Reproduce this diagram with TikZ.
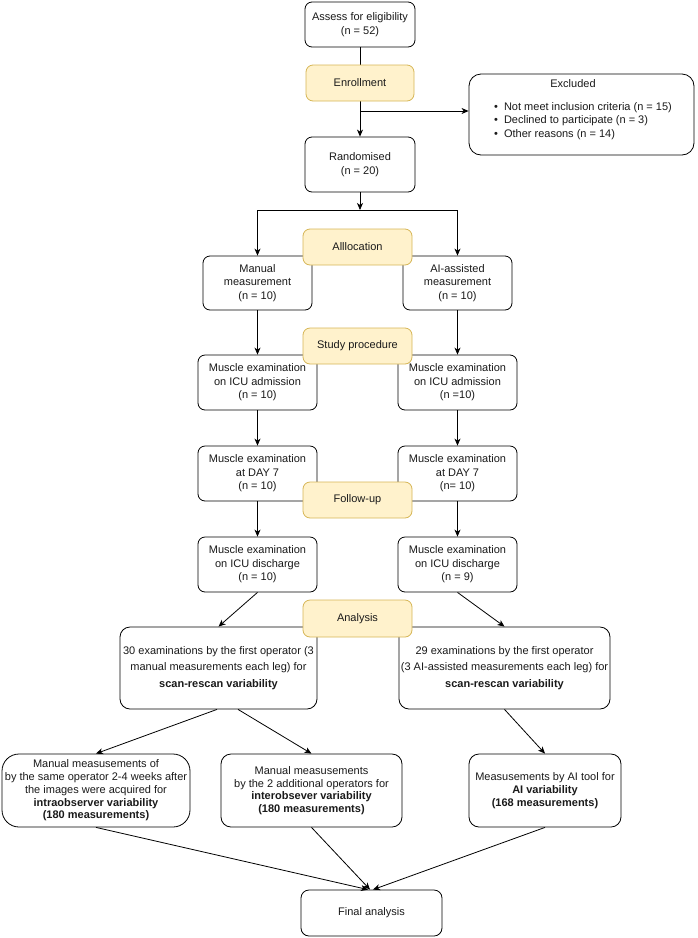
\documentclass[tikz,border=0pt]{standalone}
\usepackage{fontspec}
\setmainfont{Liberation Sans}
\usetikzlibrary{arrows.meta}
\definecolor{yfill}{HTML}{FFF2CC}
\definecolor{yline}{HTML}{D6B656}
\definecolor{txtc}{HTML}{1A1A1A}
\begin{document}
\begin{tikzpicture}[x=1pt,y=-1pt,
  box/.style={draw=black, line width=0.8pt, rounded corners=7pt, fill=white,
    align=center, inner sep=0pt, text=txtc, font=\fontsize{11}{13.5}\selectfont},
  wbox/.style={box, font=\fontsize{11}{16.5}\selectfont},
  lbox/.style={box, font=\fontsize{11}{12.7}\selectfont},
  ybox/.style={box, fill=yfill, draw=yline},
  txt/.style={inner sep=0pt, text=txtc, font=\fontsize{11}{13.2}\selectfont},
  arr/.style={-{Stealth[length=7pt,width=6pt,inset=2pt]}, line width=0.8pt},
  ln/.style={line width=0.8pt},
]
\useasboundingbox (0,0) rectangle (698,938);

% white boxes
\node[box, minimum width=110, minimum height=45] (assess) at (360,24.5) {Assess for eligibility\\(n = 52)};
\node[box, rounded corners=12pt, minimum width=225, minimum height=81] (excl) at (581.5,114.5) {};
\node[txt] (exTitle) at (573,84) {Excluded};
\node[txt, anchor=west, align=left] (exList) at (494,121) {\textbullet\hspace{6pt}Not meet inclusion criteria (n = 15)\\\textbullet\hspace{6pt}Declined to participate (n = 3)\\\textbullet\hspace{6pt}Other reasons (n = 14)};
\node[box, minimum width=110, minimum height=55] (random) at (360,164.5) {Randomised\\(n = 20)};

\node[box, minimum width=109, minimum height=54] (manual) at (257.5,283) {Manual\\measurement\\(n = 10)};
\node[box, minimum width=109, minimum height=54] (aiass) at (457.5,283) {AI-assisted\\measurement\\(n = 10)};

\node[box, minimum width=119, minimum height=55] (admL) at (257.5,382.5) {Muscle examination\\on ICU admission\\(n = 10)};
\node[box, minimum width=119, minimum height=55] (admR) at (457.5,382.5) {Muscle examination\\on ICU admission\\(n =10)};
\node[box, minimum width=119, minimum height=55] (dayL) at (257.5,473.5) {Muscle examination\\at DAY 7\\(n = 10)};
\node[box, minimum width=119, minimum height=55] (dayR) at (457.5,473.5) {Muscle examination\\at DAY 7\\(n= 10)};
\node[box, minimum width=119, minimum height=55] (disL) at (257.5,564.5) {Muscle examination\\on ICU discharge\\(n = 10)};
\node[box, minimum width=119, minimum height=55] (disR) at (457.5,564.5) {Muscle examination\\on ICU discharge\\(n = 9)};

\node[wbox, rounded corners=10pt, minimum width=197, minimum height=82] (scanL) at (218.5,668) {30 examinations by the first operator (3\\manual measurements each leg) for\\\textbf{scan-rescan variability}};
\node[wbox, rounded corners=10pt, minimum width=211, minimum height=82] (scanR) at (504.5,668) {29 examinations by the first operator\\(3 AI-assisted measurements each leg) for\\\textbf{scan-rescan variability}};

\node[lbox, rounded corners=17pt, minimum width=188, minimum height=73] (intra) at (96,790.5) {Manual measusements of\\by the same operator 2-4 weeks after\\the images were acquired for\\\textbf{intraobserver variability}\\\textbf{(180 measurements)}};
\node[lbox, rounded corners=10pt, minimum width=181, minimum height=73] (inter) at (311.5,790.5) {Manual measusements\\by the 2 additional operators for\\\textbf{interobsever variability}\\\textbf{(180 measurements)}};
\node[lbox, rounded corners=10pt, minimum width=152, minimum height=73] (aivar) at (545,790.5) {Measusements by AI tool for\\\textbf{AI variability}\\\textbf{(168 measurements)}};

\node[box, rounded corners=8pt, minimum width=141, minimum height=46] (final) at (371.5,913) {Final analysis};

% connectors
\coordinate (split) at (360,111);
\coordinate (jn) at (360,210);
\draw[arr] (assess.south) -- (random.north);
\draw[arr] (split) -- (split -| excl.west);
\draw[arr] (random.south) -- (jn);
\draw[arr] (jn) -| (manual.north);
\draw[arr] (jn) -| (aiass.north);
\draw[arr] (manual.south) -- (admL.north);
\draw[arr] (aiass.south) -- (admR.north);
\draw[arr] (admL.south) -- (dayL.north);
\draw[arr] (admR.south) -- (dayR.north);
\draw[arr] (dayL.south) -- (disL.north);
\draw[arr] (dayR.south) -- (disR.north);
\draw[arr] (disL.south) -- (scanL.north);
\draw[arr] (disR.south) -- (scanR.north);
\draw[arr] ([xshift=-1.5pt]scanL.south) -- (intra.north);
\draw[arr] ([xshift=19.5pt]scanL.south) -- (inter.north);
\draw[arr] (scanR.south) -- (aivar.north);
\draw[arr] (intra.south) -- ([xshift=-3.5pt]final.north);
\draw[arr] (inter.south) -- ([xshift=-1.5pt]final.north);
\draw[arr] (aivar.south) -- ([xshift=1.5pt]final.north);

% yellow stage boxes (on top)
\node[ybox, minimum width=108, minimum height=36] (enroll) at (360,83) {Enrollment};
\node[ybox, minimum width=109, minimum height=36] (alloc) at (357.5,247) {Alllocation};
\node[ybox, minimum width=109, minimum height=36] (study) at (357.5,346) {Study procedure};
\node[ybox, minimum width=109, minimum height=36] (follow) at (357.5,500) {Follow-up};
\node[ybox, minimum width=109, minimum height=37] (analysis) at (357.5,618.5) {Analysis};
\end{tikzpicture}
\end{document}
